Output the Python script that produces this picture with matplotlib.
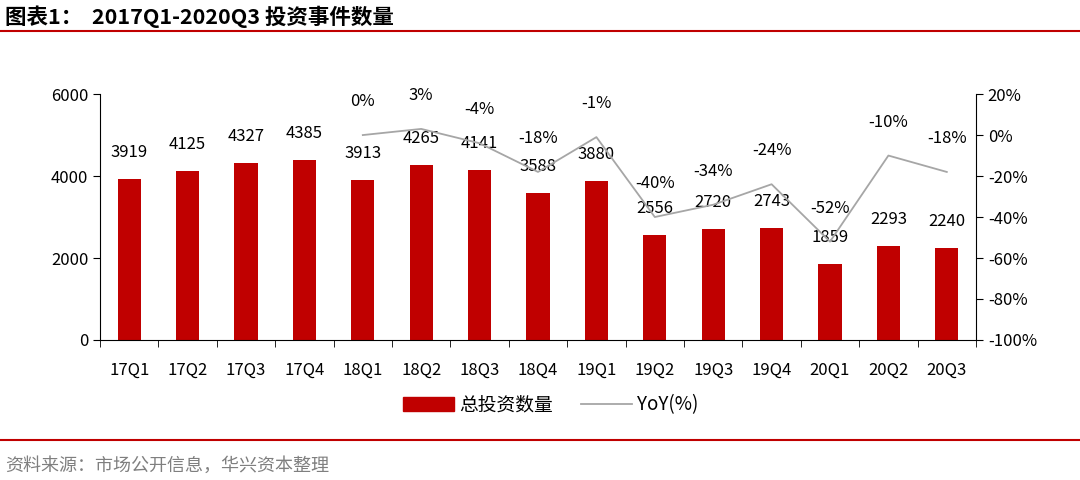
import numpy as np
import matplotlib.pyplot as plt
from matplotlib.lines import Line2D

plt.rcParams['font.family'] = ['Noto Sans CJK SC', 'DejaVu Sans']

# 季度, 投资事件数量, 同比
quarters = ["17Q1", "17Q2", "17Q3", "17Q4", "18Q1", "18Q2", "18Q3", "18Q4",
            "19Q1", "19Q2", "19Q3", "19Q4", "20Q1", "20Q2", "20Q3"]
counts = [3919, 4125, 4327, 4385, 3913, 4265, 4141, 3588,
          3880, 2556, 2720, 2743, 1859, 2293, 2240]
yoy_quarters = quarters[4:]
yoy = [0, 3, -4, -18, -1, -40, -34, -24, -52, -10, -18]

bar_color = '#C00000'
line_color = '#A6A6A6'

fig = plt.figure(figsize=(10.8, 4.8), dpi=100)
ax = fig.add_axes([0.0926, 0.2917, 0.8111, 0.5123])
x = np.arange(len(quarters))
ax.bar(x, counts, width=0.4, color=bar_color, zorder=2)
ax.set_xlim(-0.5, len(quarters) - 0.5)
ax.set_ylim(0, 6000)
ax.set_yticks([0, 2000, 4000, 6000])
ax.set_xticks(x)
ax.set_xticklabels(quarters)
ax.set_xticks(np.arange(-0.5, len(quarters), 1), minor=True)
ax.tick_params(axis='y', direction='out', length=5, labelsize=12)
ax.tick_params(axis='x', which='major', length=0, labelsize=12, pad=16)
ax.tick_params(axis='x', which='minor', direction='out', length=5)
for s in ['top', 'right']:
    ax.spines[s].set_visible(False)
for i, v in enumerate(counts):
    ax.annotate(str(v), (i, v), xytext=(0, 19), textcoords='offset points',
                ha='center', va='center', fontsize=12)

ax2 = ax.twinx()
yx = [quarters.index(q) for q in yoy_quarters]
ax2.plot(yx, yoy, color=line_color, lw=1.3, zorder=3)
ax2.set_ylim(-100, 20)
ax2.set_yticks(range(-100, 21, 20))
ax2.set_yticklabels([f"{t}%" for t in range(-100, 21, 20)])
ax2.tick_params(axis='y', direction='out', length=5, labelsize=12)
for s in ['top', 'left', 'bottom']:
    ax2.spines[s].set_visible(False)
for i, v in zip(yx, yoy):
    ax2.annotate(f"{v}%", (i, v), xytext=(0, 24), textcoords='offset points',
                 ha='center', va='center', fontsize=12)

handles = [plt.Rectangle((0, 0), 1, 1, color=bar_color),
           Line2D([0], [0], color=line_color, lw=1.3)]
fig.legend(handles, ['总投资数量', 'YoY(%)'], loc='center', ncol=2,
           bbox_to_anchor=(0.51, 0.156), frameon=False, fontsize=13.5,
           handlelength=2.7, handletextpad=0.3, columnspacing=1.5)

fig.text(0.005, 0.965, '图表1：  2017Q1-2020Q3 投资事件数量', fontsize=15.5,
         fontweight='bold', va='center', ha='left')
fig.add_artist(Line2D([0, 1], [0.935, 0.935], color='#C00000', lw=1.5))
fig.add_artist(Line2D([0, 1], [0.083, 0.083], color='#C00000', lw=1.5))
fig.text(0.005, 0.03, '资料来源：市场公开信息，华兴资本整理', fontsize=13,
         color='#7F7F7F', va='center', ha='left')

fig.savefig('out.png', dpi=100)
